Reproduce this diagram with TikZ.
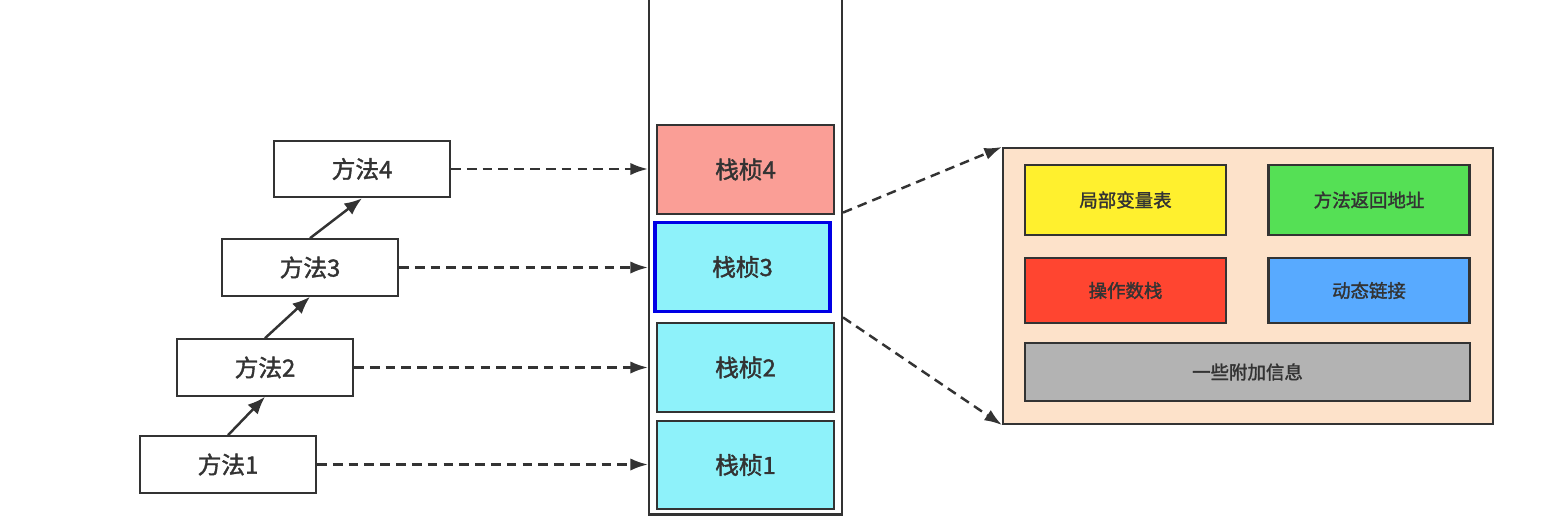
\documentclass[tikz,border=0pt]{standalone}
\usepackage{fontspec}
\newfontfamily\cjk{Noto Sans CJK SC}[FakeBold=1.6]
\usetikzlibrary{arrows.meta,positioning,calc}

\definecolor{framered}{HTML}{FA9E96}
\definecolor{framecyan}{HTML}{8EF2FA}
\definecolor{detailbg}{HTML}{FDE2CA}
\definecolor{lvyellow}{HTML}{FFF02E}
\definecolor{ragreen}{HTML}{55E055}
\definecolor{osred}{HTML}{FF4530}
\definecolor{dlblue}{HTML}{58AAFF}
\definecolor{aigray}{HTML}{B3B3B3}
\definecolor{inkgray}{HTML}{333333}

\begin{document}
\begin{tikzpicture}[
    x=0.02cm, y=-0.02cm,
    method/.style={draw=inkgray, fill=white, line width=1.2pt, minimum width=3.52cm, minimum height=1.13cm, font=\cjk\fontsize{13.5}{15}\selectfont, text=inkgray},
    stackframe/.style={draw=inkgray, fill=framecyan, line width=1.2pt, minimum width=3.54cm, minimum height=1.78cm, font=\cjk\fontsize{13.5}{15}\selectfont, text=inkgray},
    part/.style={draw=inkgray, line width=1.2pt, minimum width=4.02cm, font=\cjk\fontsize{10.5}{12}\selectfont, text=inkgray},
    calls/.style={line width=1.4pt, inkgray, -{Latex[length=10pt,width=8pt]}},
    points/.style={line width=1.4pt, inkgray, dash pattern=on 5.5pt off 3.5pt, -{Latex[length=10pt,width=7pt]}}
]
    \useasboundingbox (0,0) rectangle (1542,518);

    % Method call chain
    \node[method] (m1) at (228,464.5) {方法1};
    \node[method] (m2) at (265,367.5) {方法2};
    \node[method] (m3) at (310,267.5) {方法3};
    \node[method] (m4) at (362,169) {方法4};

    \draw[calls] (m1.north) -- (m2.south);
    \draw[calls] (m2.north) -- (m3.south);
    \draw[calls] (m3.north) -- (m4.south);

    % Stack column with its frames
    \node[draw=inkgray, line width=1.2pt, minimum width=3.86cm, minimum height=10.5cm] (stack) at (745.5,252) {};
    \node[stackframe, fill=framered] (f4) at (745.5,169.5) {栈桢4};
    \node[stackframe, draw=blue!90!black, line width=2.2pt, minimum width=3.5cm] (f3) at (742.5,267) {栈桢3};
    \node[stackframe] (f2) at (745.5,367.5) {栈桢2};
    \node[stackframe, minimum height=1.76cm] (f1) at (745.5,465) {栈桢1};

    % Each method points at its frame
    \draw[points] (m4.east) -- (m4.east -| stack.west);
    \draw[points] (m3.east) -- (m3.east -| stack.west);
    \draw[points] (m2.east) -- (m2.east -| stack.west);
    \draw[points] (m1.east) -- (m1.east -| stack.west);

    % Inside of one frame
    \node[draw=inkgray, fill=detailbg, line width=1.2pt, minimum width=9.8cm, minimum height=5.52cm] (detail) at (1248,286) {};
    \node[part, fill=lvyellow, minimum height=1.4cm] (lv) at (1125.5,200) {局部变量表};
    \node[part, fill=ragreen, minimum height=1.4cm] (ra) at (1369,200) {方法返回地址};
    \node[part, fill=osred, minimum height=1.3cm] (os) at (1125.5,290.5) {操作数栈};
    \node[part, fill=dlblue, minimum height=1.3cm] (dl) at (1369,290.5) {动态链接};
    \node[part, fill=aigray, minimum width=8.9cm, minimum height=1.16cm] (ai) at (1247.5,372) {一些附加信息};

    \draw[points] ($(stack.east |- f3.north)+(0,-8)$) -- (detail.north west);
    \draw[points] ($(stack.east |- f3.south)+(0,4)$) -- (detail.south west);

\end{tikzpicture}
\end{document}
